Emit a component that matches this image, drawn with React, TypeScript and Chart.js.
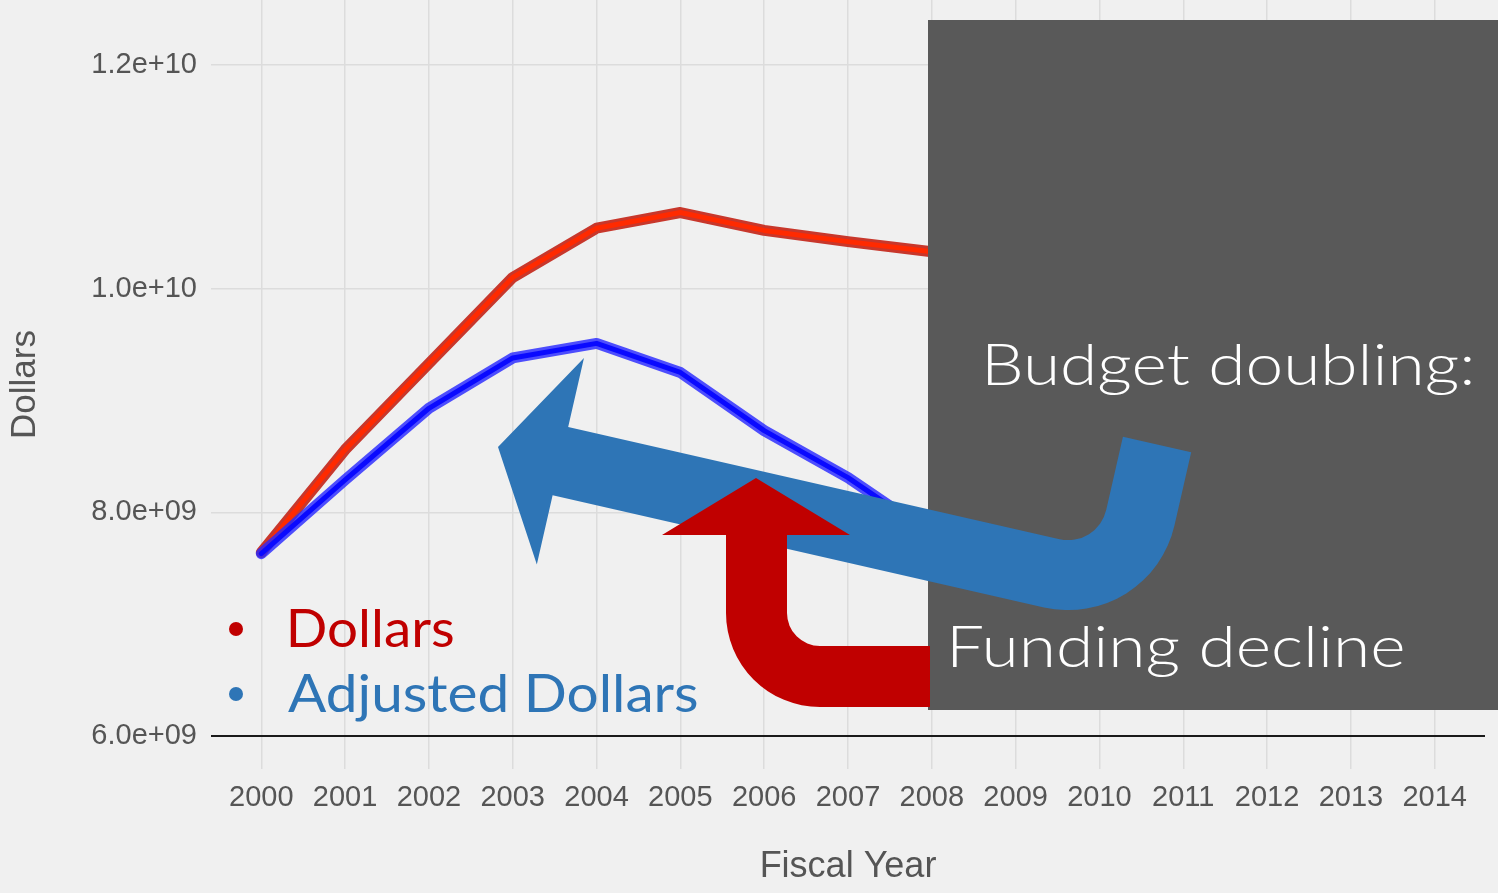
import React, { useEffect, useRef } from "react";
import { Chart, registerables } from "chart.js";

Chart.register(...registerables);

// ---- data ----
const years = [2000, 2001, 2002, 2003, 2004, 2005, 2006, 2007, 2008, 2009, 2010, 2011, 2012, 2013, 2014];
const dataYears = [2000, 2001, 2002, 2003, 2004, 2005, 2006, 2007, 2008];
const dollars = [7.64e9, 8.56e9, 9.33e9, 10.1e9, 10.54e9, 10.68e9, 10.52e9, 10.42e9, 10.33e9];
const adjustedDollars = [7.63e9, 8.29e9, 8.93e9, 9.38e9, 9.51e9, 9.25e9, 8.73e9, 8.31e9, 7.8e9];
const yTickValues = [6e9, 8e9, 1e10, 1.2e10];
const yTickLabels = ["6.0e+09", "8.0e+09", "1.0e+10", "1.2e+10"];
const seriesNames = ["Dollars", "Adjusted Dollars"];
const baselineValue = 6e9;
const boxTexts = ["Budget doubling:", "Funding decline"];

const W = 1498;
const H = 893;
const AXIS_FONT = "'Liberation Sans', Arial, sans-serif";
const DECO_FONT = "Lato, 'DejaVu Sans', sans-serif";

const pts = (vals: number[]) => vals.map((v, i) => ({ x: dataYears[i], y: v }));

function drawInk(
  ctx: CanvasRenderingContext2D,
  text: string,
  left: number,
  baseline: number,
  targetWidth: number,
  font: string,
  color: string
) {
  ctx.save();
  ctx.font = font;
  ctx.textAlign = "left";
  ctx.textBaseline = "alphabetic";
  const m = ctx.measureText(text);
  const ink = m.actualBoundingBoxRight + m.actualBoundingBoxLeft;
  const sx = targetWidth / ink;
  ctx.translate(left + m.actualBoundingBoxLeft * sx, baseline);
  ctx.scale(sx, 1);
  ctx.fillStyle = color;
  ctx.fillText(text, 0, 0);
  ctx.restore();
}

const decorPlugin = {
  id: "decor",
  beforeDraw(chart: any) {
    const ctx = chart.ctx;
    ctx.save();
    ctx.fillStyle = "#f0f0f0";
    ctx.fillRect(0, 0, chart.width, chart.height);
    ctx.restore();
  },
  beforeDatasetsDraw(chart: any) {
    const ctx = chart.ctx;
    const { left, right } = chart.chartArea;
    const y = chart.scales.y.getPixelForValue(baselineValue);
    ctx.save();
    ctx.strokeStyle = "#1a1a1a";
    ctx.lineWidth = 2;
    ctx.beginPath();
    ctx.moveTo(left, y);
    ctx.lineTo(right, y);
    ctx.stroke();
    ctx.restore();
  },
  afterDraw(chart: any) {
    const ctx = chart.ctx;
    ctx.save();
    // grey box
    ctx.fillStyle = "#595959";
    ctx.fillRect(928, 20, 570, 690);

    // blue curved arrow
    const th = Math.atan2(0.2223, 0.975);
    const U0 = 568;
    ctx.save();
    ctx.translate(498, 447);
    ctx.rotate(th);
    ctx.beginPath();
    ctx.moveTo(0, 0);
    ctx.lineTo(64, -106);
    ctx.lineTo(64, -35);
    ctx.lineTo(U0, -35);
    ctx.arc(U0, -74, 39, Math.PI / 2, 0, true);
    ctx.lineTo(U0 + 39, -149);
    ctx.lineTo(U0 + 109, -149);
    ctx.lineTo(U0 + 109, -74);
    ctx.arc(U0, -74, 109, 0, Math.PI / 2, false);
    ctx.lineTo(64, 35);
    ctx.lineTo(64, 106);
    ctx.closePath();
    ctx.fillStyle = "#2e75b6";
    ctx.fill();
    ctx.restore();

    // red curved arrow
    ctx.beginPath();
    ctx.moveTo(756, 478);
    ctx.lineTo(850, 535);
    ctx.lineTo(787, 535);
    ctx.lineTo(787, 613);
    ctx.arc(820, 613, 33, Math.PI, Math.PI / 2, true);
    ctx.lineTo(930, 646);
    ctx.lineTo(930, 707);
    ctx.lineTo(820, 707);
    ctx.arc(820, 613, 94, Math.PI / 2, Math.PI, false);
    ctx.lineTo(726, 535);
    ctx.lineTo(662, 535);
    ctx.closePath();
    ctx.fillStyle = "#c00000";
    ctx.fill();

    // box texts
    drawInk(ctx, boxTexts[0], 988, 385, 483, `300 58px ${DECO_FONT}`, "#ffffff");
    drawInk(ctx, boxTexts[1], 953, 667, 450, `300 58px ${DECO_FONT}`, "#ffffff");

    // legend
    ctx.fillStyle = "#c00000";
    ctx.beginPath();
    ctx.arc(236, 629, 7, 0, Math.PI * 2);
    ctx.fill();
    ctx.fillStyle = "#2e75b6";
    ctx.beginPath();
    ctx.arc(236, 694, 7, 0, Math.PI * 2);
    ctx.fill();
    drawInk(ctx, seriesNames[0], 290, 647, 163, `400 52px ${DECO_FONT}`, "#c00000");
    drawInk(ctx, seriesNames[1], 288, 712, 409, `400 52px ${DECO_FONT}`, "#2e75b6");
    ctx.restore();
  },
};

const zeroPad = (s: any) => {
  s.paddingTop = 0;
  s.paddingBottom = 0;
  s.paddingLeft = 0;
  s.paddingRight = 0;
};

export default function App() {
  const ref = useRef<HTMLCanvasElement>(null);
  useEffect(() => {
    if (!ref.current) return;
    const chart = new Chart(ref.current, {
      type: "line",
      data: {
        datasets: [
          { label: seriesNames[1] + " core", data: pts(adjustedDollars), borderColor: "#0a0aff", borderWidth: 5 },
          { label: seriesNames[1], data: pts(adjustedDollars), borderColor: "rgba(40,40,255,0.82)", borderWidth: 11 },
          { label: seriesNames[0] + " core", data: pts(dollars), borderColor: "#ff2a00", borderWidth: 5 },
          { label: seriesNames[0], data: pts(dollars), borderColor: "#c8372b", borderWidth: 11 },
        ],
      },
      options: {
        responsive: false,
        animation: false,
        devicePixelRatio: 1,
        layout: { padding: { left: 0, right: 13, top: 0, bottom: 0 } },
        plugins: { legend: { display: false }, tooltip: { enabled: false } },
        elements: {
          point: { radius: 0 },
          line: { tension: 0, borderJoinStyle: "round", borderCapStyle: "round" },
        },
        scales: {
          x: {
            type: "linear",
            min: 1999.4,
            max: 2014.6,
            afterBuildTicks: (s: any) => {
              s.ticks = years.map((v) => ({ value: v }));
            },
            afterFit: (s: any) => {
              s.height = 124;
              zeroPad(s);
            },
            ticks: {
              autoSkip: false,
              maxRotation: 0,
              padding: 12,
              color: "#555555",
              font: { family: AXIS_FONT, size: 29 },
              callback: (v: any) => String(v),
            },
            grid: { color: "#dcdcdc", lineWidth: 1.5, drawTicks: false },
            border: { display: false },
            title: {
              display: true,
              text: "Fiscal Year",
              color: "#555555",
              font: { family: AXIS_FONT, size: 36 },
              padding: { top: 0, bottom: 4 },
            },
          },
          y: {
            type: "linear",
            min: 5.705e9,
            max: 12.58e9,
            afterBuildTicks: (s: any) => {
              s.ticks = yTickValues.map((v) => ({ value: v }));
            },
            afterFit: (s: any) => {
              s.width = 211;
              zeroPad(s);
            },
            ticks: {
              padding: 14,
              color: "#555555",
              font: { family: AXIS_FONT, size: 29 },
              callback: (v: any) => {
                let best = 0;
                yTickValues.forEach((t, i) => {
                  if (Math.abs(t - v) < Math.abs(yTickValues[best] - v)) best = i;
                });
                return yTickLabels[best];
              },
            },
            grid: { color: "#dcdcdc", lineWidth: 1.5, drawTicks: false },
            border: { display: false },
            title: {
              display: true,
              text: "Dollars",
              color: "#555555",
              font: { family: AXIS_FONT, size: 35 },
              padding: { top: 4, bottom: 0 },
            },
          },
        },
      } as any,
      plugins: [decorPlugin],
    });
    return () => chart.destroy();
  }, []);
  return (
    <div style={{ position: "fixed", left: 0, top: 0, width: W, height: H, background: "#f0f0f0" }}>
      <canvas ref={ref} width={W} height={H} style={{ display: "block" }} />
    </div>
  );
}
